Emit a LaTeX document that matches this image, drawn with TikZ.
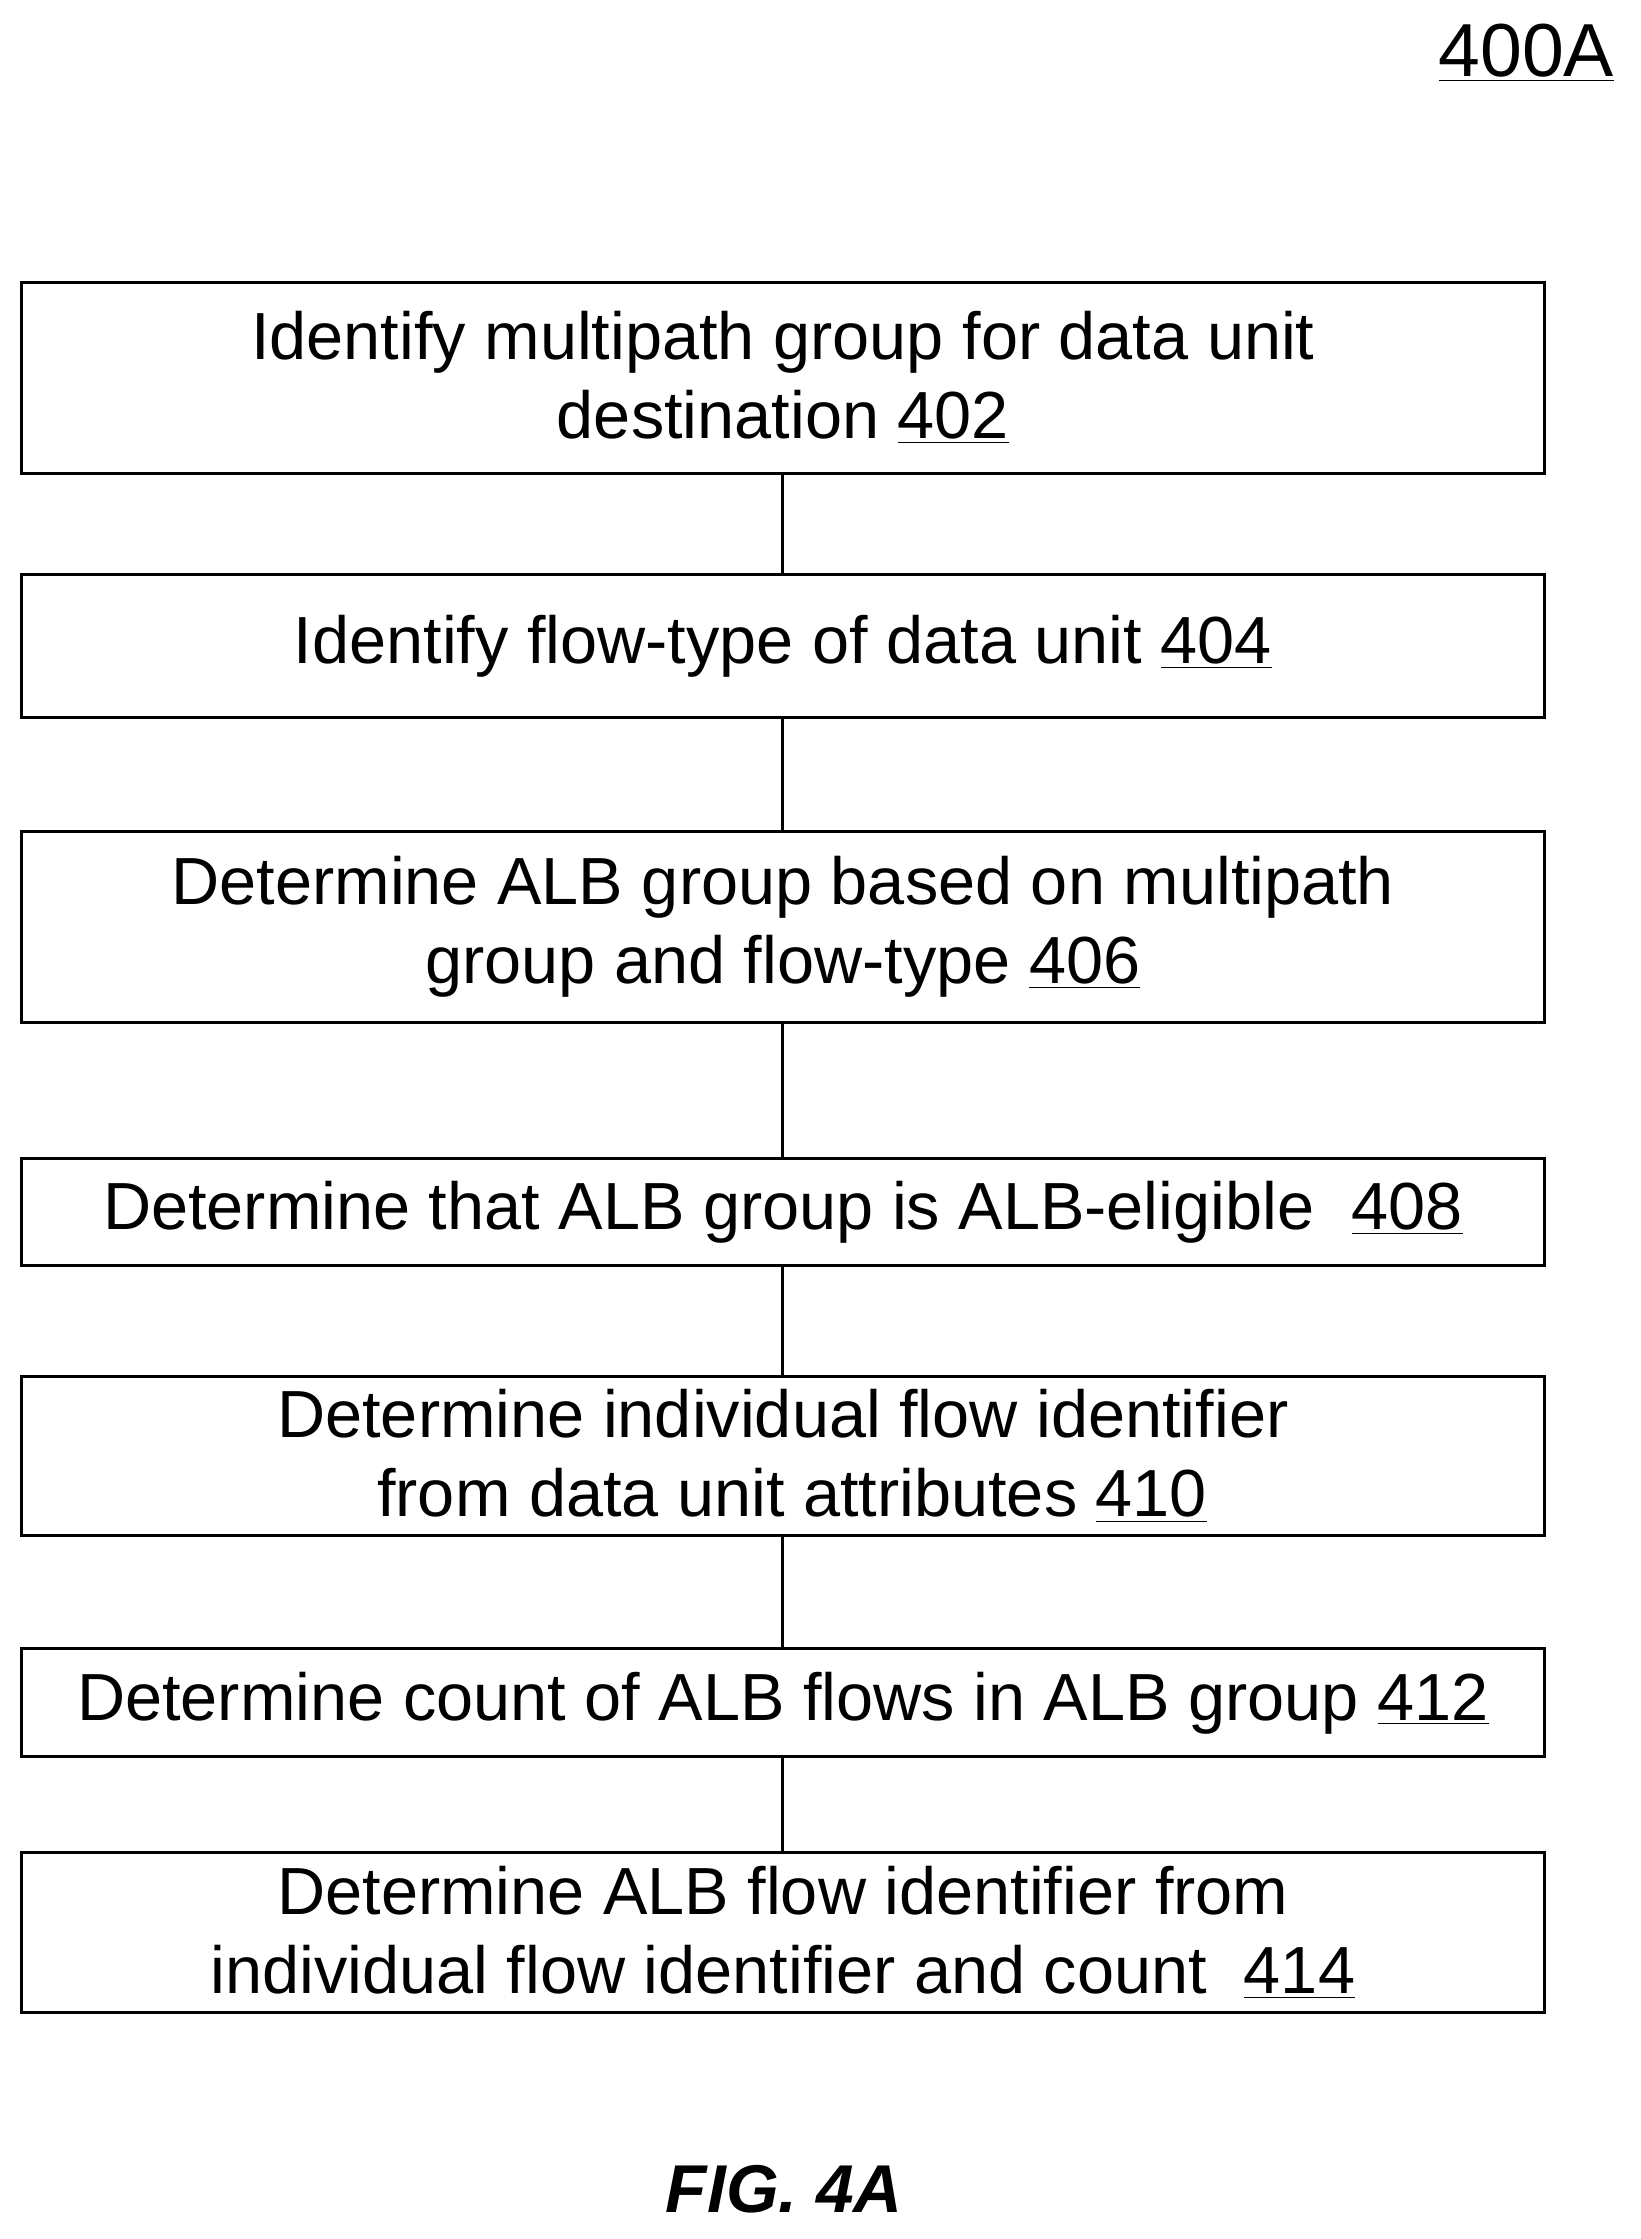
\documentclass[tikz,border=0pt]{standalone}
\usepackage{fontspec}
\setmainfont{Liberation Sans}
\usetikzlibrary{positioning}

\tikzset{
  flowbox/.style={draw, line width=1.2pt, minimum width=21.36cm, align=center,
    font=\fontsize{26.6}{31.5}\selectfont, inner sep=0pt},
}

\begin{document}
\begin{tikzpicture}[x=0.02cm, y=-0.02cm]
  \useasboundingbox (0,0) rectangle (1150,1570);
  \node[font=\fontsize{30}{36}\selectfont, anchor=east] (fig) at (1138,37) {\underline{400A}};
  % steps
  \node[flowbox, minimum height=2.68cm] (s402) at (549,265) {Identify multipath group for data unit\\destination \underline{402}};
  \node[flowbox, minimum height=2.0cm] (s404) at (549,453) {Identify flow-type of data unit \underline{404}};
  \node[flowbox, minimum height=2.68cm] (s406) at (549,650) {Determine ALB group based on multipath\\group and flow-type \underline{406}};
  \node[flowbox, minimum height=1.5cm] (s408) at (549,850) {Determine that ALB group is ALB-eligible\ \ \underline{408}};
  \node[flowbox, minimum height=2.24cm] (s410) at (549,1021) {Determine individual flow identifier\\\ from data unit attributes \underline{410}};
  \node[flowbox, minimum height=1.52cm] (s412) at (549,1194) {Determine count of ALB flows in ALB group \underline{412}};
  \node[flowbox, minimum height=2.24cm] (s414) at (549,1355) {Determine ALB flow identifier from\\individual flow identifier and count\ \ \underline{414}};
  % connectors
  \foreach \a/\b in {s402/s404, s404/s406, s406/s408, s408/s410, s410/s412, s412/s414}
    \draw[line width=1.2pt] (\a) -- (\b);
  \node[font=\fontsize{27}{32}\selectfont\bfseries\itshape] (cap) at (550,1535) {FIG. 4A};
\end{tikzpicture}
\end{document}
